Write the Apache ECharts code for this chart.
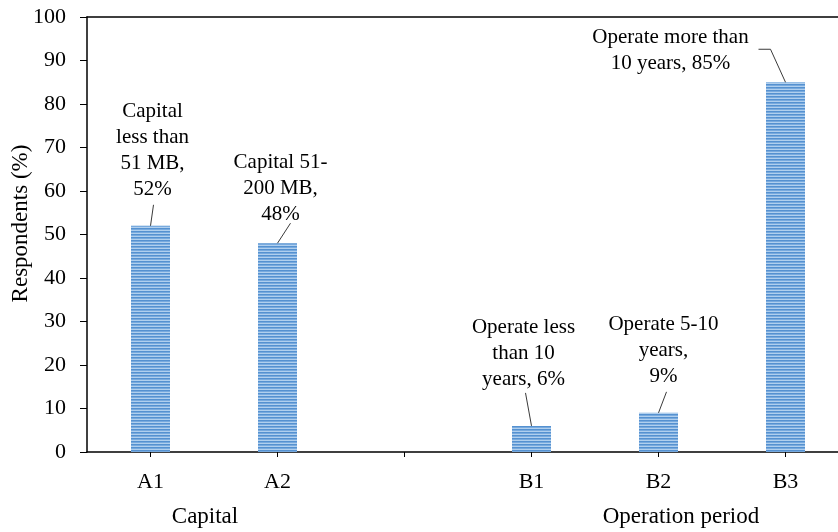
<!DOCTYPE html>
<html>
<head>
<meta charset="utf-8">
<script src="https://cdn.jsdelivr.net/npm/echarts@6/dist/echarts.min.js"></script>
<style>
  html, body { margin: 0; padding: 0; background: #fff; }
  #chart { width: 838px; height: 532px; }
</style>
</head>
<body>
<div id="chart"></div>
<script>
// Survey categories (blank slot separates the two groups)
const categories = ['A1', 'A2', '', 'B1', 'B2', 'B3'];
// Share of respondents, %
const values = [52, 48, null, 6, 9, 85];
// Text of each value callout
const labelTexts = [
  'Capital\nless than\n51 MB,\n52%',
  'Capital 51-\n200 MB,\n48%',
  null,
  'Operate less\nthan 10\nyears, 6%',
  'Operate 5-10\nyears,\n9%',
  'Operate more than\n10 years, 85%'
];
// Y axis range and step
const yMin = 0, yMax = 100, yStep = 10;
// Group captions under the category axis
const groupNames = ['Capital', 'Operation period'];

// Callout placement relative to the top of each bar (pixels)
const calloutLayout = [
  { dx: 2,    dy: -23, line: [[0, 0], [3, -21]] },
  { dx: 3,    dy: -16, line: [[0, 0], [13, -20]] },
  null,
  { dx: -8,   dy: -33, line: [[0, 0], [-6, -33]] },
  { dx: 5,    dy: -23, line: [[0, 0], [8, -21]] },
  { dx: -115, dy: -6,  line: [[0, 0], [-15, -33], [-27, -33]] }
];

const SERIF = "'Liberation Serif', 'Times New Roman', serif";

// Horizontal stripe fill for the bars
function stripePattern() {
  const c = document.createElement('canvas');
  c.width = 8; c.height = 3;
  const g = c.getContext('2d');
  const rows = ['#5591d0', '#78aade', '#b0cfee'];
  rows.forEach((col, r) => { g.fillStyle = col; g.fillRect(0, r, 8, 1); });
  return c;
}

const calloutData = [];
values.forEach((v, i) => { if (v != null) calloutData.push([i, v]); });

const chart = echarts.init(document.getElementById('chart'), null, { renderer: 'canvas' });

chart.setOption({
  animation: false,
  backgroundColor: '#fff',
  grid: { left: 87, top: 17, bottom: 80, right: -11, containLabel: false, outerBoundsMode: 'none' },
  xAxis: [{
    type: 'category',
    data: categories,
    axisLine: { show: true, lineStyle: { color: '#000', width: 1.5 } },
    axisTick: { show: true, alignWithLabel: true, length: 5, lineStyle: { color: '#000', width: 1 } },
    axisLabel: { color: '#000', fontSize: 22, fontFamily: SERIF, margin: 19 },
    splitLine: { show: false }
  }, {
    type: 'category',
    position: 'top',
    data: categories,
    axisLine: { show: true, lineStyle: { color: '#000', width: 1.5 } },
    axisTick: { show: false },
    axisLabel: { show: false },
    splitLine: { show: false }
  }],
  yAxis: {
    type: 'value',
    min: yMin, max: yMax, interval: yStep,
    name: 'Respondents (%)',
    nameLocation: 'middle',
    nameGap: 55,
    nameMoveOverlap: false,
    nameTextStyle: { color: '#000', fontSize: 23, fontFamily: SERIF, padding: [0, 0, 0, 22] },
    axisLine: { show: true, lineStyle: { color: '#000', width: 1.5 } },
    axisTick: { show: true, length: 7, lineStyle: { color: '#000', width: 1 } },
    axisLabel: { color: '#000', fontSize: 22, fontFamily: SERIF, margin: 21 },
    splitLine: { show: false }
  },
  graphic: [
    { type: 'text', x: 205, y: 517, style: { text: groupNames[0], font: '23px ' + SERIF, fill: '#000', align: 'center', verticalAlign: 'middle' } },
    { type: 'text', x: 681, y: 517, style: { text: groupNames[1], font: '23px ' + SERIF, fill: '#000', align: 'center', verticalAlign: 'middle' } }
  ],
  series: [{
    type: 'bar',
    data: values,
    barWidth: 39,
    itemStyle: { color: { image: stripePattern(), repeat: 'repeat' } },
    z: 2
  }, {
    type: 'custom',
    data: calloutData,
    z: 3,
    renderItem: function (params, api) {
      const idx = api.value(0);
      const top = api.coord([idx, api.value(1)]);
      const lay = calloutLayout[idx];
      const pts = lay.line.map(p => [top[0] + p[0], top[1] + p[1]]);
      return {
        type: 'group',
        children: [{
          type: 'polyline',
          shape: { points: pts },
          style: { stroke: '#3a3a3a', lineWidth: 1, fill: null }
        }, {
          type: 'text',
          x: top[0] + lay.dx,
          y: top[1] + lay.dy,
          style: {
            text: labelTexts[idx],
            font: '21px ' + SERIF,
            fill: '#000',
            align: 'center',
            verticalAlign: 'bottom',
            lineHeight: 26
          }
        }]
      };
    }
  }]
});
</script>
</body>
</html>
